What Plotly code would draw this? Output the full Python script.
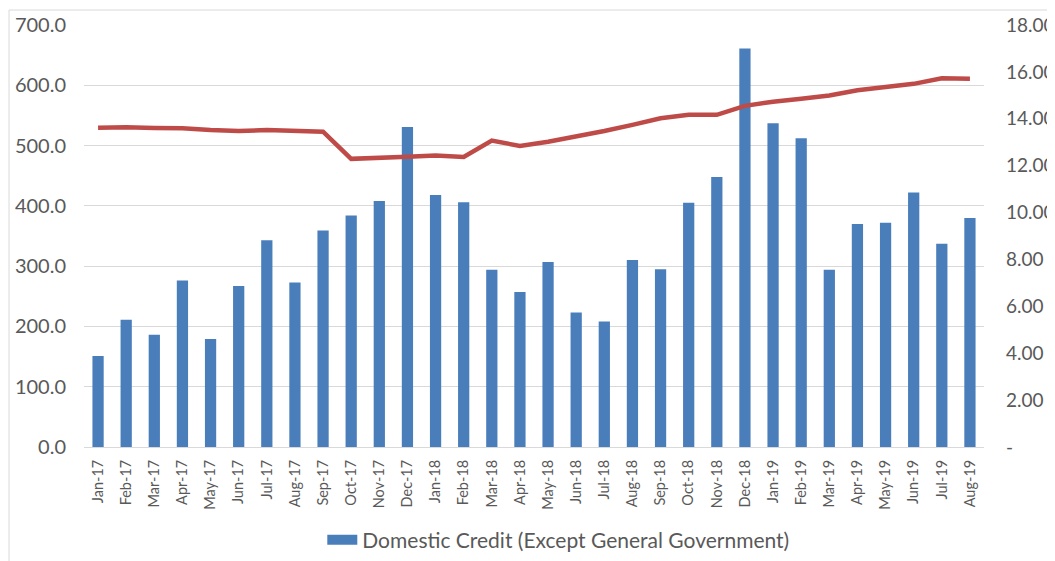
import plotly.graph_objects as go

months = ["Jan-17","Feb-17","Mar-17","Apr-17","May-17","Jun-17","Jul-17","Aug-17","Sep-17","Oct-17","Nov-17","Dec-17",
          "Jan-18","Feb-18","Mar-18","Apr-18","May-18","Jun-18","Jul-18","Aug-18","Sep-18","Oct-18","Nov-18","Dec-18",
          "Jan-19","Feb-19","Mar-19","Apr-19","May-19","Jun-19","Jul-19","Aug-19"]

domestic_credit = [151, 211, 186, 276, 179, 267, 343, 273, 359, 384, 408, 531,
                   418, 406, 294, 257, 307, 223, 208, 310, 295, 405, 448, 661,
                   537, 512, 294, 370, 372, 422, 337, 380]

rate = [13.62, 13.64, 13.61, 13.60, 13.52, 13.48, 13.52, 13.50, 13.45, 12.29, 12.32, 12.38,
        12.43, 12.37, 13.07, 12.84, 13.02, 13.24, 13.48, 13.74, 14.02, 14.17, 14.17, 14.55,
        14.73, 14.85, 14.99, 15.22, 15.35, 15.49, 15.73, 15.71]

left_ticks = [0, 100, 200, 300, 400, 500, 600, 700]
right_ticks = [0, 2, 4, 6, 8, 10, 12, 14, 16, 18]
right_ticktext = ["-", "2.00", "4.00", "6.00", "8.00", "10.00", "12.00", "14.00", "16.00", "18.00"]

FONT = "Lato, 'Open Sans', sans-serif"
GREY = "#595959"
BLUE = "#4A7EBB"

fig = go.Figure()
fig.add_trace(go.Bar(
    x=months, y=domestic_credit, name="Domestic Credit (Except General Government)",
    marker=dict(color=BLUE, line=dict(width=0)), yaxis="y", showlegend=False,
))
fig.add_trace(go.Scatter(
    x=months, y=rate, mode="lines", name="Rate", showlegend=False,
    line=dict(color="#BE4B48", width=4.5), yaxis="y2",
))
# legend entry (wide blue swatch like the original)
fig.add_trace(go.Scatter(
    x=[None], y=[None], mode="lines", name="Domestic Credit (Except General Government)",
    line=dict(color=BLUE, width=15), showlegend=True, yaxis="y",
))

fig.update_layout(
    width=1047, height=553,
    margin=dict(l=76, r=71, t=17, b=114, autoexpand=False),
    paper_bgcolor="white", plot_bgcolor="white",
    bargap=0.6,
    font=dict(family=FONT, color=GREY),
    xaxis=dict(
        type="category", tickangle=-90, tickfont=dict(size=14.5, color=GREY),
        showgrid=False, showline=True, linecolor="#D9D9D9", linewidth=1,
        ticks="", ticklabelstandoff=6, automargin=False,
    ),
    yaxis=dict(
        range=[0, 700], tickvals=left_ticks, tickformat=".1f",
        tickfont=dict(size=20, color=GREY), showgrid=True, gridcolor="#D9D9D9",
        gridwidth=1, zeroline=False, showline=False, ticks="", ticklabelstandoff=17,
        automargin=False,
    ),
    yaxis2=dict(
        range=[0, 18], overlaying="y", side="right", tickvals=right_ticks,
        ticktext=right_ticktext, tickfont=dict(size=19, color=GREY),
        showgrid=False, zeroline=False, showline=False, ticks="", ticklabelstandoff=21,
        automargin=False,
    ),
    legend=dict(
        orientation="h", x=0.527, xanchor="center", y=-0.172, yanchor="top",
        font=dict(size=21, color=GREY),
    ),
    shapes=[
        dict(type="line", xref="paper", yref="paper", x0=-0.0833, x1=1.08, y0=1.0355, y1=1.0355,
             line=dict(color="#D9D9D9", width=1)),
        dict(type="line", xref="paper", yref="paper", x0=-0.0833, x1=-0.0833, y0=1.0355, y1=-0.3,
             line=dict(color="#D9D9D9", width=1)),
    ],
)

fig.write_html("out.html")
